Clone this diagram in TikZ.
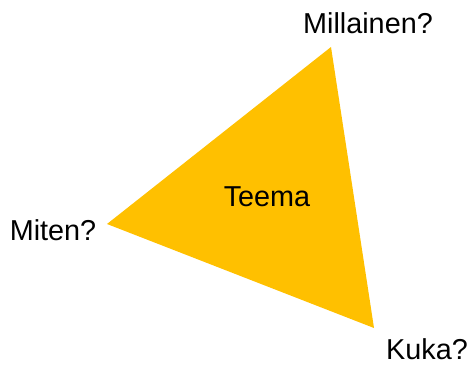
\documentclass[tikz,border=0pt]{standalone}
\usepackage{fontspec}
\setmainfont{Liberation Sans}
\definecolor{theme}{HTML}{FFC000}
\begin{document}
\begin{tikzpicture}[x=1pt,y=1pt,
  lbl/.style={font=\fontsize{28.8}{32}\selectfont, inner sep=0pt, anchor=center}]
\useasboundingbox (0,0) rectangle (471,365);
% triangle corners
\coordinate (top) at (331,318);
\coordinate (left) at (107,141);
\coordinate (bot) at (374,37);
\fill[theme] (top) -- (left) -- (bot) -- cycle;
\node[lbl] (teema) at (267,168) {Teema};
\node[lbl] (millainen) at (368,342) {Millainen?};
\node[lbl] (miten) at (53,135) {Miten?};
\node[lbl] (kuka) at (427,16) {Kuka?};
\end{tikzpicture}
\end{document}
